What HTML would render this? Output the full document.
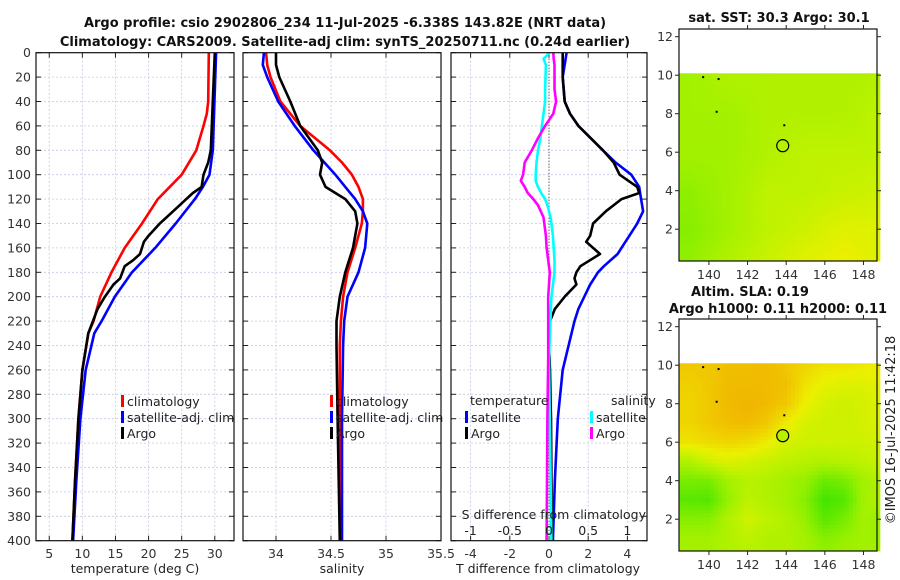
<!DOCTYPE html>
<html><head><meta charset="utf-8"><style>
body{margin:0;background:#fff}
svg{display:block;font-family:"DejaVu Sans","Liberation Sans",sans-serif}
</style></head><body>
<svg id="chart" width="900" height="580" viewBox="0 0 900 580" xmlns="http://www.w3.org/2000/svg">
<text x="345" y="27" text-anchor="middle" font-size="13" font-weight="bold" fill="#111">Argo profile: csio 2902806_234 11-Jul-2025 -6.338S 143.82E (NRT data)</text>
<text x="345" y="46" text-anchor="middle" font-size="13" font-weight="bold" fill="#111">Climatology: CARS2009. Satellite-adj clim: synTS_20250711.nc (0.24d earlier)</text>
<text x="779" y="22" text-anchor="middle" font-size="13" font-weight="bold" fill="#111">sat. SST: 30.3 Argo: 30.1</text>
<text x="750" y="296" text-anchor="middle" font-size="13" font-weight="bold" fill="#111">Altim. SLA: 0.19</text>
<text x="778" y="313" text-anchor="middle" font-size="13" font-weight="bold" fill="#111">Argo h1000: 0.11 h2000: 0.11</text>
<text transform="translate(895,430) rotate(-90)" text-anchor="middle" font-size="13" fill="#222">©IMOS 16-Jul-2025 11:42:18</text>
<g id="g"></g>
</svg>
<script>
// ---- profile data (depth in m) ----
const depthTclim = [0,40,50,60,80,100,120,140,160,180,200,210,220,230,260,300,350,400];
const tempClim   = [29.1,29.0,28.8,28.3,27.2,25.0,21.4,19.0,16.4,14.4,12.7,12.2,11.7,10.9,10.0,9.4,8.9,8.5];
const depthTsat  = [0,80,100,110,120,140,160,180,200,220,230,260,300,350,400];
const tempSat    = [30.2,29.7,29.2,28.2,27.0,24.1,21.0,17.5,14.9,12.9,11.8,10.5,9.7,9.1,8.6];
const depthTargo = [0,80,90,100,110,115,120,130,140,150,155,165,170,175,185,190,200,210,220,230,260,300,350,400];
const tempArgo   = [30.0,29.4,29.0,28.3,28.0,26.7,25.7,23.7,21.7,20.0,19.3,18.7,17.7,16.4,15.7,14.7,13.4,12.3,11.6,10.9,10.0,9.4,8.9,8.5];
const depthS     = [0,10,20,40,60,80,90,100,110,120,130,140,160,180,200,220,240,300,400];
const salClim    = [33.91,33.92,33.95,34.04,34.22,34.49,34.6,34.69,34.75,34.79,34.79,34.78,34.72,34.65,34.61,34.59,34.58,34.58,34.59];
const salSat     = [33.89,33.88,33.92,34.02,34.17,34.34,34.44,34.54,34.63,34.72,34.79,34.83,34.81,34.75,34.65,34.62,34.61,34.6,34.6];
const salArgo    = [34.0,34.0,34.03,34.13,34.22,34.38,34.42,34.40,34.45,34.63,34.72,34.74,34.70,34.63,34.58,34.55,34.55,34.56,34.58];
const depthDT    = [0,20,40,50,60,80,90,100,110,115,120,130,140,150,155,165,175,180,185,190,200,210,220,240,260,300,350,400];
const dTsat      = [0.9,0.7,0.8,1.07,1.5,2.75,3.4,4.2,4.6,4.65,4.7,4.8,4.5,4.1,3.9,3.5,2.8,2.5,2.3,2.1,1.8,1.5,1.3,1.0,0.7,0.45,0.3,0.2];
const dTargo     = [0.7,0.7,0.8,1.07,1.5,2.75,3.3,3.6,4.5,4.6,3.7,2.9,2.25,2.1,1.9,2.6,1.6,1.4,1.3,1.4,0.8,0.3,0.05,0,0.05,0.1,0.12,0.15];
const depthDS    = [0,5,10,30,40,50,60,70,80,90,100,105,110,115,120,125,135,140,150,160,170,180,200,250,300,400];
const dSsat      = [0.01,-0.07,-0.04,-0.05,-0.05,-0.07,-0.09,-0.11,-0.14,-0.16,-0.17,-0.17,-0.14,-0.1,-0.05,-0.02,0.02,0.03,0.05,0.06,0.07,0.07,0.03,0,0.01,0.03];
const dSargo     = [0.055,0.06,0.07,0.07,0.09,0.055,-0.05,-0.14,-0.22,-0.31,-0.33,-0.36,-0.31,-0.27,-0.2,-0.14,-0.07,-0.06,-0.04,-0.03,-0.01,0.01,-0.01,-0.01,-0.02,-0.03];
const depthTicks = [0,20,40,60,80,100,120,140,160,180,200,220,240,260,280,300,320,340,360,380,400];
const tempTicks  = [5,10,15,20,25,30];
const salTicks   = [34,34.5,35,35.5];
const salTickLabels = ["34","34.5","35","35.5"];
const dTTicks    = [-4,-2,0,2,4];
const dSTicks    = [-1,-0.5,0,0.5,1];
const dSTickLabels = ["-1","-0.5","0","0.5","1"];
// ---- map data ----
const mapLonTicks = [140,142,144,146,148];
const mapLatTicks = [2,4,6,8,10,12];
const sstLons = [139,141,143,145,147,149];
const sstLats = [10,8,6,4,2,0.5];
const sstGrid = [
 [0.45,0.5,0.5,0.5,0.5,0.5],
 [0.45,0.45,0.5,0.5,0.5,0.55],
 [0.45,0.45,0.5,0.55,0.55,0.55],
 [0.38,0.45,0.55,0.55,0.58,0.6],
 [0.35,0.45,0.55,0.6,0.66,0.65],
 [0.38,0.5,0.58,0.66,0.7,0.65]];
const slaLons = [139,140,141,142,143,144,145,146,147,148,149];
const slaLats = [10,9,8,7,6,5,4,3,2,1,0];
const slaGrid = [
 [0.85,0.85,0.88,0.88,0.9,0.85,0.8,0.75,0.75,0.72,0.72],
 [0.82,0.85,0.9,0.9,0.9,0.88,0.75,0.68,0.65,0.65,0.68],
 [0.8,0.85,0.9,0.92,0.9,0.85,0.7,0.62,0.6,0.62,0.65],
 [0.8,0.85,0.88,0.9,0.85,0.72,0.62,0.6,0.6,0.62,0.65],
 [0.75,0.78,0.8,0.78,0.72,0.62,0.6,0.6,0.6,0.6,0.62],
 [0.5,0.6,0.65,0.62,0.58,0.55,0.52,0.5,0.52,0.55,0.58],
 [0.3,0.3,0.45,0.52,0.5,0.45,0.4,0.25,0.3,0.45,0.5],
 [0.2,0.18,0.4,0.55,0.5,0.45,0.35,0.12,0.18,0.45,0.5],
 [0.35,0.35,0.5,0.6,0.55,0.5,0.4,0.2,0.3,0.45,0.4],
 [0.45,0.45,0.5,0.55,0.5,0.5,0.45,0.35,0.4,0.45,0.4],
 [0.45,0.45,0.5,0.5,0.5,0.5,0.45,0.4,0.45,0.45,0.45]];
const argoLon = 143.82, argoLat = 6.34;
const speckLon = [139.7,140.5,140.4,143.9];
const speckLat = [9.9,9.8,8.1,7.4];

const NS="http://www.w3.org/2000/svg";
const G=document.getElementById('g');
function mk(tag,attrs,parent){const e=document.createElementNS(NS,tag);for(const k in attrs)e.setAttribute(k,attrs[k]);(parent||G).appendChild(e);return e;}
const Y0=52.7,Y1=540.7;
const yD=d=>Y0+(Y1-Y0)*d/400;

function panel(name,x0,x1,xmin,xmax,xt,xtl,showY){
  const g=mk('g',{});
  
  
  const sx=v=>x0+(x1-x0)*(v-xmin)/(xmax-xmin);
  xt.forEach((v,i)=>{
    const l=mk('line',{x1:sx(v),x2:sx(v),y1:Y0,y2:Y1,stroke:'#c4c8e4','stroke-width':0.8,'stroke-dasharray':'2,2'},g);
    
    
    mk('line',{x1:sx(v),x2:sx(v),y1:Y1,y2:Y1-5,stroke:'#222'},g);
    mk('line',{x1:sx(v),x2:sx(v),y1:Y0,y2:Y0+5,stroke:'#222'},g);
    const t=mk('text',{x:sx(v),y:558,'text-anchor':'middle','font-size':12.5,fill:'#333'},g);
    t.textContent=xtl?xtl[i]:String(v);
    
    
  });
  depthTicks.forEach(d=>{
    if(d>0&&d<400){const l=mk('line',{x1:x0,x2:x1,y1:yD(d),y2:yD(d),stroke:'#c4c8e4','stroke-width':0.8,'stroke-dasharray':'2,2'},g);
    
    }
    mk('line',{x1:x0,x2:x0+5,y1:yD(d),y2:yD(d),stroke:'#222'},g);
    mk('line',{x1:x1,x2:x1-5,y1:yD(d),y2:yD(d),stroke:'#222'},g);
    if(showY){const t=mk('text',{x:x0-5,y:yD(d)+4.5,'text-anchor':'end','font-size':12.5,fill:'#333'},g);t.textContent=d;
    
    }
  });
  return {g,sx};
}
function series(p,name,xs,ds,color,w){
  const pts=xs.map((v,i)=>p.sx(v).toFixed(1)+','+yD(ds[i]).toFixed(1)).join(' ');
  const e=mk('polyline',{points:pts,fill:'none',stroke:color,'stroke-width':w||2.6,'stroke-linejoin':'round'},p.g);
  
  
}
function frame(p,x0,x1){mk('rect',{x:x0,y:Y0,width:x1-x0,height:Y1-Y0,fill:'none',stroke:'#111','stroke-width':1.2},p.g);}
function legendEntry(g,x,y,color,label,name){
  const e=mk('g',{},g);
  
  
  mk('rect',{x:x,y:y-11,width:3,height:12,fill:color},e);
  const t=mk('text',{x:x+6,y:y,'font-size':12.5,fill:'#222'},e);t.textContent=label;
}
function label(txt,x,y,name,anchor){const t=mk('text',{x:x,y:y,'text-anchor':anchor||'middle','font-size':12.5,fill:'#222'});t.textContent=txt;
  
  return t;}

// Panel 1: temperature
const p1=panel('temperature-panel',36,234,3,32.9,tempTicks,null,true);
series(p1,'temp-climatology-line',tempClim,depthTclim,'#ff0000');
series(p1,'temp-satellite-line',tempSat,depthTsat,'#0000ff');
series(p1,'temp-argo-line',tempArgo,depthTargo,'#000000');
frame(p1,36,234);
legendEntry(p1.g,121,406,'#ff0000','climatology','legend-climatology');
legendEntry(p1.g,121,422,'#0000ff','satellite-adj. clim','legend-satellite');
legendEntry(p1.g,121,438,'#000000','Argo','legend-argo');
label('temperature (deg C)',135,573,'x-axis-title-temperature');

// Panel 2: salinity
const p2=panel('salinity-panel',243,441,33.7,35.5,salTicks,salTickLabels,false);
series(p2,'sal-climatology-line',salClim,depthS,'#ff0000');
series(p2,'sal-satellite-line',salSat,depthS,'#0000ff');
series(p2,'sal-argo-line',salArgo,depthS,'#000000');
frame(p2,243,441);
legendEntry(p2.g,330,406,'#ff0000','climatology','legend-climatology-2');
legendEntry(p2.g,330,422,'#0000ff','satellite-adj. clim','legend-satellite-2');
legendEntry(p2.g,330,438,'#000000','Argo','legend-argo-2');
label('salinity',342,573,'x-axis-title-salinity');

// Panel 3: differences
const p3=panel('difference-panel',451,647,-5,5,dTTicks,null,false);
const sxS=v=>p3.sx(v*4);
const z=mk('line',{x1:p3.sx(0),x2:p3.sx(0),y1:Y0,y2:Y1,stroke:'#333','stroke-width':1,'stroke-dasharray':'1,2'},p3.g);


series(p3,'dT-satellite-line',dTsat,depthDT,'#0000ff');
series(p3,'dT-argo-line',dTargo,depthDT,'#000000');
series(p3,'dS-satellite-line',dSsat.map(v=>v*4),depthDS,'#00ffff');
series(p3,'dS-argo-line',dSargo.map(v=>v*4),depthDS,'#ff00ff');
frame(p3,451,647);
label('temperature',470,405,'legend-title-temperature','start');
label('salinity',611,405,'legend-title-salinity','start');
legendEntry(p3.g,465,422,'#0000ff','satellite','legend-dT-satellite');
legendEntry(p3.g,465,438,'#000000','Argo','legend-dT-argo');
legendEntry(p3.g,590,422,'#00ffff','satellite','legend-dS-satellite');
legendEntry(p3.g,590,438,'#ff00ff','Argo','legend-dS-argo');
label('S difference from climatology',646,519,'s-axis-title','end');
dSTicks.forEach((v,i)=>label(dSTickLabels[i],sxS(v),535,'s-tick-label'));
label('T difference from climatology',548,573,'x-axis-title-dT');

// Maps
const stops=[[0,[32,224,0]],[0.4,[150,240,0]],[0.55,[190,242,0]],[0.7,[236,240,0]],[0.85,[240,200,0]],[1,[240,160,0]]];
function cmap(v){v=Math.max(0,Math.min(1,v));for(let i=1;i<stops.length;i++){if(v<=stops[i][0]){const a=stops[i-1],b=stops[i],t=(v-a[0])/(b[0]-a[0]);return 'rgb('+a[1].map((c,k)=>Math.round(c+(b[1][k]-c)*t)).join(',')+')';}}return 'rgb(240,160,0)';}
function interp(arr,v){
  const asc=arr[1]>arr[0];
  for(let i=0;i<arr.length-1;i++){const a=arr[i],b=arr[i+1];if((asc&&v>=a&&v<=b)||(!asc&&v<=a&&v>=b))return [i,(v-a)/(b-a)];}
  if(asc)return v<arr[0]?[0,0]:[arr.length-2,1];return v>arr[0]?[0,0]:[arr.length-2,1];
}
function sample(grid,lons,lats,lon,lat){
  const [i,fi]=interp(lons,lon),[j,fj]=interp(lats,lat);
  const a=grid[j][i],b=grid[j][i+1],c=grid[j+1][i],d=grid[j+1][i+1];
  return (a*(1-fi)+b*fi)*(1-fj)+(c*(1-fi)+d*fi)*fj;
}
function map(name,top,bot,grid,lons,lats,fillCircle){
  const g=mk('g',{});
  
  
  const L=679,R=877,lonMin=138.45,lonMax=148.7,latMax=12.4;
  const latMin=latMax-(bot-top)/19.25;
  const sx=v=>L+(R-L)*(v-lonMin)/(lonMax-lonMin);
  const sy=v=>top+(bot-top)*(latMax-v)/(latMax-latMin);
  const step=0.2;
  for(let la=10.1;la>latMin-step;la-=step){
    for(let lo=lonMin;lo<lonMax;lo+=step){
      const v=sample(grid,lons,lats,lo+step/2,la-step/2);
      const y1=sy(la),y2=Math.min(bot,sy(la-step));
      if(y2<=y1)continue;
      mk('rect',{x:sx(lo).toFixed(2),y:y1.toFixed(2),width:(sx(lo+step)-sx(lo)+0.4).toFixed(2),height:(y2-y1+0.4).toFixed(2),fill:cmap(v)},g);
    }
  }
  speckLon.forEach((lo,i)=>mk('rect',{x:sx(lo)-1,y:sy(speckLat[i])-1,width:2,height:2,fill:'#000'},g));
  const c=mk('circle',{cx:sx(argoLon),cy:sy(argoLat),r:6,fill:fillCircle,stroke:'#000','stroke-width':1.2},g);
  
  
  mk('rect',{x:L,y:top,width:R-L,height:bot-top,fill:'none',stroke:'#111','stroke-width':1.2},g);
  mapLonTicks.forEach(v=>{mk('line',{x1:sx(v),x2:sx(v),y1:bot,y2:bot+4,stroke:'#222'},g);mk('line',{x1:sx(v),x2:sx(v),y1:top,y2:top-4,stroke:'#222'},g);
    const t=mk('text',{x:sx(v),y:bot+18,'text-anchor':'middle','font-size':12.5,fill:'#333'},g);t.textContent=v;
    
    });
  mapLatTicks.forEach(v=>{mk('line',{x1:L,x2:L-4,y1:sy(v),y2:sy(v),stroke:'#222'},g);mk('line',{x1:R,x2:R+4,y1:sy(v),y2:sy(v),stroke:'#222'},g);
    const t=mk('text',{x:L-6,y:sy(v)+4.5,'text-anchor':'end','font-size':12.5,fill:'#333'},g);t.textContent=v;
    
    });
}
map('sst-map',29,261,sstGrid,sstLons,sstLats,'none');
map('sla-map',319,551,slaGrid,slaLons,slaLats,'#b8f000');
</script>
</body></html>
